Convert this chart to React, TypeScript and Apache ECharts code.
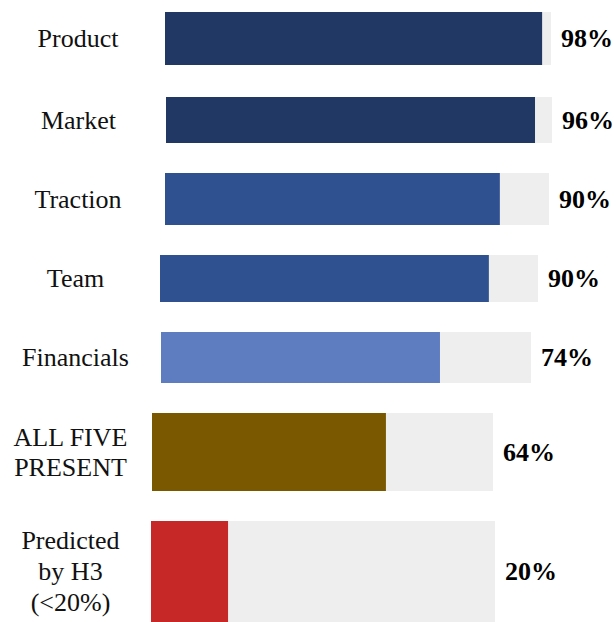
import React, { useEffect, useRef } from "react";
import * as echarts from "echarts";

// Categories (left labels)
const categories = [
  "Product",
  "Market",
  "Traction",
  "Team",
  "Financials",
  "ALL FIVE\nPRESENT",
  "Predicted\nby H3\n(<20%)",
];
// Filled bar lengths (share of the grey track)
const values = [97.7, 95.6, 87.2, 87.0, 75.4, 68.6, 22.4];
// Value labels printed at the right
const valueLabels = ["98%", "96%", "90%", "90%", "74%", "64%", "20%"];
// Track maximum
const trackMax = [100, 100, 100, 100, 100, 100, 100];

const colors = ["#213864", "#213864", "#2f5190", "#2f5190", "#5e7cc0", "#7a5800", "#c62828"];

// Layout of each row (px): left, top, width, height, label center x, line height, label shift
const layout = [
  { left: 165, top: 12, width: 386, height: 53, cx: 78, lh: 30, shift: 0 },
  { left: 166, top: 97, width: 386, height: 46, cx: 78.5, lh: 30, shift: 0 },
  { left: 165, top: 173, width: 384, height: 52, cx: 78, lh: 30, shift: 0 },
  { left: 160, top: 255, width: 378, height: 47, cx: 75.5, lh: 30, shift: 0 },
  { left: 161, top: 332, width: 370, height: 51, cx: 75.5, lh: 30, shift: 0 },
  { left: 152, top: 413, width: 341, height: 78, cx: 70.5, lh: 30, shift: 0 },
  { left: 151, top: 521, width: 344, height: 101, cx: 70.5, lh: 31, shift: 3 },
];

const FONT = "'Liberation Serif', 'Times New Roman', serif";

export default function App() {
  const ref = useRef<HTMLDivElement>(null);
  useEffect(() => {
    document.body.style.margin = "0";
    if (!ref.current) return;
    const chart = echarts.init(ref.current, undefined, { renderer: "svg" });
    const grid: any[] = [];
    const xAxis: any[] = [];
    const yAxis: any[] = [];
    const series: any[] = [];
    categories.forEach((cat, i) => {
      const l = layout[i];
      grid.push({ left: l.left, top: l.top, width: l.width, height: l.height });
      xAxis.push({ type: "value", gridIndex: i, min: 0, max: 100, show: false });
      yAxis.push({
        type: "category",
        gridIndex: i,
        data: [cat],
        axisLine: { show: false },
        axisTick: { show: false },
        splitLine: { show: false },
        axisLabel: {
          align: "center",
          margin: l.left - l.cx,
          fontSize: 26,
          lineHeight: l.lh,
          padding: [l.shift * 2, 0, 0, 0],
          fontFamily: FONT,
          color: "#111",
        },
      });
      series.push({
        type: "bar",
        xAxisIndex: i,
        yAxisIndex: i,
        data: [trackMax[i]],
        barWidth: "100%",
        barGap: "-100%",
        itemStyle: { color: "#eeeeee" },
        silent: true,
        label: {
          show: true,
          position: "right",
          distance: 10,
          formatter: () => valueLabels[i],
          fontSize: 26,
          fontWeight: "bold",
          fontFamily: FONT,
          color: "#000",
        },
      });
      series.push({
        type: "bar",
        xAxisIndex: i,
        yAxisIndex: i,
        data: [values[i]],
        barWidth: "100%",
        barGap: "-100%",
        itemStyle: { color: colors[i] },
      });
    });
    chart.setOption({
      animation: false,
      backgroundColor: "#ffffff",
      grid,
      xAxis,
      yAxis,
      series,
    });
    return () => chart.dispose();
  }, []);
  return <div ref={ref} style={{ width: 616, height: 622 }} />;
}
